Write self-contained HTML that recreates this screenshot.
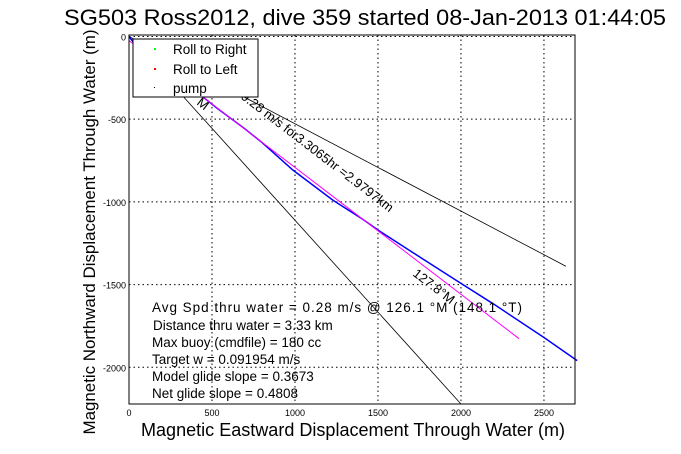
<!DOCTYPE html>
<html><head><meta charset="utf-8"><style>
body{margin:0;background:#fff;}
svg{display:block;font-family:"Liberation Sans",sans-serif;}
</style></head><body>
<svg width="681" height="454" viewBox="0 0 681 454">
<rect width="681" height="454" fill="#fff"/>
<g id="grid"></g>
<g id="marks"></g>
<rect x="129" y="35" width="446" height="369" fill="none" stroke="#000" stroke-width="1"/>
<g id="ticks" font-size="9"></g>
<text x="365" y="25" font-size="22" text-anchor="middle" textLength="602" lengthAdjust="spacingAndGlyphs">SG503 Ross2012, dive 359 started 08-Jan-2013 01:44:05</text>
<text x="353" y="436" font-size="18" text-anchor="middle" textLength="424" lengthAdjust="spacingAndGlyphs">Magnetic Eastward Displacement Through Water (m)</text>
<text transform="translate(95,232) rotate(-90)" font-size="17" text-anchor="middle" textLength="405" lengthAdjust="spacingAndGlyphs">Magnetic Northward Displacement Through Water (m)</text>
<g font-size="13.5">
<text x="152" y="312" textLength="370" lengthAdjust="spacing">Avg Spd thru water =  0.28 m/s @ 126.1    °M (148.1 °T)</text>
<text x="153" y="330">Distance thru water =  3.33 km</text>
<text x="152" y="347">Max buoy (cmdfile) = 180 cc</text>
<text x="152" y="364">Target w = 0.091954 m/s</text>
<text x="152" y="381">Model glide slope = 0.3673</text>
<text x="152" y="398">Net glide slope = 0.4808</text>
</g>
<text transform="translate(240,98) rotate(37.5)" font-size="13">0.28 m/s for3.3065hr =2.9797km</text>
<text transform="translate(196,104) rotate(37.5)" font-size="13">M</text>
<text transform="translate(412,275) rotate(37.5)" font-size="13">127.8°M</text>
<g>
<rect x="133" y="39" width="125" height="58" fill="#fff" stroke="#000"/>
<rect x="154" y="48" width="2" height="2" fill="#0f0"/>
<rect x="154" y="68" width="2" height="2" fill="#f00"/>
<rect x="154" y="87" width="1" height="1" fill="#000"/>
<text x="173" y="54" font-size="13.5">Roll to Right</text>
<text x="173" y="74" font-size="13.5">Roll to Left</text>
<text x="173" y="93" font-size="13.5">pump</text>
</g>
</svg>
<script>
const xTicks=[0,500,1000,1500,2000,2500];
const yTicks=[0,-500,-1000,-1500,-2000];
const traceX=[0,30,250,400,530,700,800,988,1229,1400,1500,1700,2000,2200,2500,2700];
const traceY=[0,-40,-200,-330,-433,-560,-640,-808,-990,-1100,-1170,-1300,-1493,-1620,-1820,-1960];
const headingStart=[0,-25];
const headingEnd=[2350,-1827];
const boundA=[2632,-1389];
const boundB=[2000,-2222];
const X0=0,X1=2687,Y0=-2222,Y1=9;
const L=129,R=575,T=35,B=404;
const sx=v=>L+(v-X0)/(X1-X0)*(R-L);
const sy=v=>B-(v-Y0)/(Y1-Y0)*(B-T);
const NS="http://www.w3.org/2000/svg";
function mk(p,tag,at){const e=document.createElementNS(NS,tag);for(const k in at)e.setAttribute(k,at[k]);p.appendChild(e);return e;}
const grid=document.getElementById('grid'),ticks=document.getElementById('ticks'),marks=document.getElementById('marks');
xTicks.forEach(v=>{const x=sx(v);
 if(v>0){const l=mk(grid,'line',{x1:x,x2:x,y1:T,y2:B,stroke:'#000','stroke-dasharray':'1.5,3'});
 
 }
 const t=mk(ticks,'text',{x:x,y:B+12,'text-anchor':'middle'});t.textContent=v;
 
 });
yTicks.forEach(v=>{const y=sy(v);
 const l=mk(grid,'line',{x1:L,x2:R,y1:y,y2:y,stroke:'#000','stroke-dasharray':'1.5,3'});
 
 
 const t=mk(ticks,'text',{x:L-3,y:y+4,'text-anchor':'end'});t.textContent=v;
 
 });
[[boundA,'bound-line-upper'],[boundB,'bound-line-lower']].forEach(([p,n])=>{
 const l=mk(marks,'line',{x1:sx(0),y1:sy(0),x2:sx(p[0]),y2:sy(p[1]),stroke:'#000','stroke-width':0.8});
 
 });
const pts=traceX.map((v,i)=>sx(v)+','+sy(traceY[i])).join(' ');
const tr=mk(marks,'polyline',{points:pts,fill:'none',stroke:'#00f','stroke-width':1.5});


const h=mk(marks,'line',{x1:sx(headingStart[0]),y1:sy(headingStart[1]),x2:sx(headingEnd[0]),y2:sy(headingEnd[1]),stroke:'#f0f','stroke-width':1});


</script>
</body></html>
